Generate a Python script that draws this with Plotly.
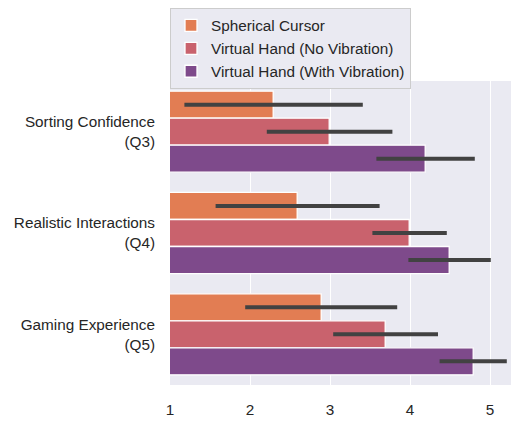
import plotly.graph_objects as go

categories = ["Sorting Confidence<br>(Q3)", "Realistic Interactions<br>(Q4)", "Gaming Experience<br>(Q5)"]
series_names = ["Spherical Cursor", "Virtual Hand (No Vibration)", "Virtual Hand (With Vibration)"]

spherical_mean = [2.29, 2.59, 2.89]
spherical_lo = [1.18, 1.57, 1.94]
spherical_hi = [3.41, 3.62, 3.84]

novib_mean = [2.99, 3.99, 3.69]
novib_lo = [2.21, 3.53, 3.04]
novib_hi = [3.78, 4.46, 4.35]

withvib_mean = [4.19, 4.49, 4.79]
withvib_lo = [3.58, 3.98, 4.37]
withvib_hi = [4.81, 5.01, 5.21]

colors = ["#E27D53", "#C9626D", "#7E4A8B"]
x_ticks = [1, 2, 3, 4, 5]

series = [
    (spherical_mean, spherical_lo, spherical_hi),
    (novib_mean, novib_lo, novib_hi),
    (withvib_mean, withvib_lo, withvib_hi),
]

ypos = list(range(len(categories)))
text_color = "#262626"
fsize = 15.3
font_family = "Liberation Sans, Arial"

fig = go.Figure()
for name, color, (m, lo, hi) in zip(series_names, colors, series):
    fig.add_trace(go.Bar(
        y=ypos, x=m, name=name, orientation="h",
        marker=dict(color=color, line=dict(color="white", width=1.3)),
        error_x=dict(type="data", symmetric=False,
                     array=[h - v for h, v in zip(hi, m)],
                     arrayminus=[v - l for v, l in zip(m, lo)],
                     color="#424242", thickness=4, width=0),
    ))

# the page body has an 8px margin; size the figure to fit the 519x421 window
fig.update_layout(
    width=511, height=413,
    margin=dict(l=162, r=1, t=73, b=36, autoexpand=False),
    barmode="group", bargap=0.2, bargroupgap=0,
    plot_bgcolor="#EAEAF2", paper_bgcolor="white",
    font=dict(family=font_family, size=fsize, color=text_color),
    legend=dict(
        x=0, y=1.0, xref="paper", yref="container", xanchor="left", yanchor="top",
        bgcolor="#EAEAF2", bordercolor="#CCCCCC", borderwidth=1,
        font=dict(family=font_family, size=fsize, color=text_color),
        traceorder="normal", itemwidth=30, tracegroupgap=0,
    ),
    xaxis=dict(range=[1, 5.35], tickvals=x_ticks, showgrid=True, gridcolor="white",
               gridwidth=1.3, zeroline=False, showline=False, ticks="",
               ticklabelstandoff=14, automargin=False,
               tickfont=dict(family=font_family, size=fsize, color=text_color)),
    yaxis=dict(tickvals=ypos, ticktext=categories, autorange=False,
               range=[2.5, -0.5], showgrid=False, zeroline=False, showline=False,
               ticks="", ticklabelstandoff=14, automargin=False,
               tickfont=dict(family=font_family, size=fsize, color=text_color)),
)

fig.write_html("out.html")
